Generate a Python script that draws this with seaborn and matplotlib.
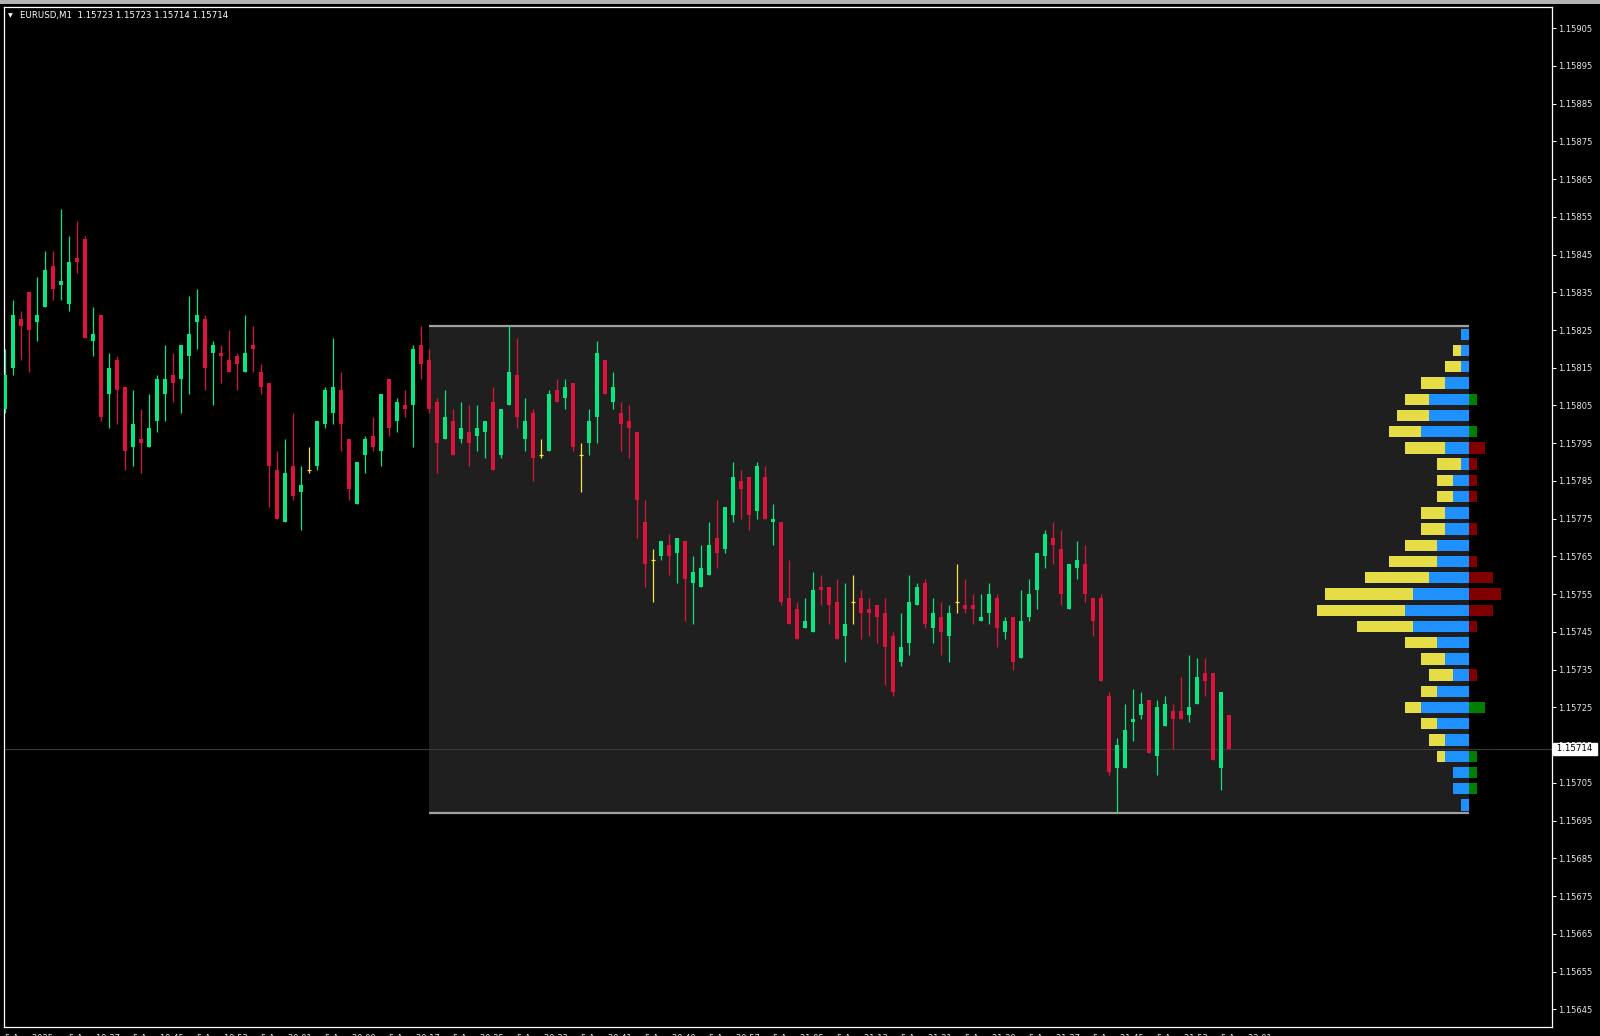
import numpy as np
import pandas as pd
import matplotlib
matplotlib.use("Agg")
import matplotlib.pyplot as plt
from matplotlib.patches import Rectangle
from matplotlib.transforms import blended_transform_factory
import seaborn as sns

# EURUSD M1 candles, 5 Aug 2025 19:29 - 22:02 (one entry per minute)
opens = [1.15804, 1.15815, 1.15828, 1.15835, 1.15827, 1.15831, 1.15842, 1.15837, 1.15832, 1.15844,
         1.15849, 1.15822, 1.15829, 1.15808, 1.15817, 1.15810, 1.15794, 1.15796, 1.15794, 1.15801,
         1.15808, 1.15813, 1.15812, 1.15818, 1.15827, 1.15828, 1.15819, 1.15819, 1.15817, 1.15818,
         1.15814, 1.15821, 1.15814, 1.15811, 1.15788, 1.15774, 1.15789, 1.15782, 1.15788, 1.15789,
         1.15800, 1.15803, 1.15809, 1.15796, 1.15779, 1.15792, 1.15797, 1.15793, 1.15812, 1.15801,
         1.15805, 1.15805, 1.15821, 1.15817, 1.15806, 1.15796, 1.15801, 1.15796, 1.15798, 1.15797,
         1.15798, 1.15806, 1.15792, 1.15805, 1.15813, 1.15796, 1.15803, 1.15792, 1.15793, 1.15809,
         1.15807, 1.15811, 1.15792, 1.15795, 1.15802, 1.15817, 1.15806, 1.15803, 1.15801, 1.15798,
         1.15774, 1.15764, 1.15765, 1.15768, 1.15766, 1.15769, 1.15758, 1.15757, 1.15760, 1.15770,
         1.15767, 1.15776, 1.15785, 1.15786, 1.15777, 1.15786, 1.15774, 1.15774, 1.15754, 1.15751,
         1.15746, 1.15745, 1.15757, 1.15757, 1.15753, 1.15744, 1.15753, 1.15754, 1.15751, 1.15752,
         1.15750, 1.15744, 1.15737, 1.15742, 1.15752, 1.15758, 1.15746, 1.15749, 1.15744, 1.15753,
         1.15752, 1.15752, 1.15748, 1.15750, 1.15754, 1.15745, 1.15749, 1.15738, 1.15749, 1.15756,
         1.15765, 1.15770, 1.15767, 1.15751, 1.15762, 1.15763, 1.15754, 1.15754, 1.15728, 1.15709,
         1.15709, 1.15721, 1.15723, 1.15727, 1.15712, 1.15720, 1.15724, 1.15724, 1.15723, 1.15726,
         1.15734, 1.15734, 1.15709, 1.15723]
highs = [1.15820, 1.15833, 1.15830, 1.15835, 1.15839, 1.15846, 1.15846, 1.15857, 1.15850, 1.15854,
         1.15850, 1.15831, 1.15829, 1.15819, 1.15818, 1.15810, 1.15809, 1.15804, 1.15808, 1.15813,
         1.15821, 1.15819, 1.15821, 1.15834, 1.15836, 1.15829, 1.15822, 1.15821, 1.15825, 1.15819,
         1.15829, 1.15826, 1.15816, 1.15811, 1.15793, 1.15796, 1.15803, 1.15789, 1.15794, 1.15801,
         1.15810, 1.15823, 1.15814, 1.15796, 1.15790, 1.15797, 1.15802, 1.15808, 1.15812, 1.15807,
         1.15809, 1.15821, 1.15826, 1.15820, 1.15807, 1.15809, 1.15804, 1.15806, 1.15805, 1.15805,
         1.15801, 1.15810, 1.15804, 1.15826, 1.15823, 1.15807, 1.15804, 1.15796, 1.15809, 1.15812,
         1.15812, 1.15811, 1.15795, 1.15804, 1.15822, 1.15817, 1.15814, 1.15806, 1.15805, 1.15798,
         1.15780, 1.15767, 1.15769, 1.15771, 1.15770, 1.15769, 1.15765, 1.15768, 1.15774, 1.15780,
         1.15778, 1.15790, 1.15788, 1.15786, 1.15790, 1.15789, 1.15779, 1.15774, 1.15764, 1.15753,
         1.15754, 1.15761, 1.15760, 1.15757, 1.15759, 1.15758, 1.15760, 1.15756, 1.15754, 1.15752,
         1.15754, 1.15745, 1.15750, 1.15760, 1.15758, 1.15759, 1.15754, 1.15753, 1.15752, 1.15763,
         1.15759, 1.15755, 1.15755, 1.15758, 1.15755, 1.15749, 1.15749, 1.15756, 1.15759, 1.15766,
         1.15772, 1.15774, 1.15772, 1.15763, 1.15769, 1.15768, 1.15754, 1.15755, 1.15729, 1.15717,
         1.15726, 1.15730, 1.15729, 1.15727, 1.15727, 1.15728, 1.15726, 1.15733, 1.15739, 1.15738,
         1.15738, 1.15734, 1.15729, 1.15723]
lows = [1.15803, 1.15813, 1.15817, 1.15814, 1.15822, 1.15831, 1.15833, 1.15833, 1.15830, 1.15840,
        1.15823, 1.15818, 1.15801, 1.15799, 1.15800, 1.15788, 1.15789, 1.15787, 1.15794, 1.15798,
        1.15801, 1.15806, 1.15803, 1.15808, 1.15820, 1.15809, 1.15805, 1.15811, 1.15814, 1.15809,
        1.15814, 1.15814, 1.15808, 1.15778, 1.15775, 1.15774, 1.15780, 1.15772, 1.15787, 1.15788,
        1.15799, 1.15800, 1.15793, 1.15780, 1.15779, 1.15787, 1.15793, 1.15789, 1.15797, 1.15798,
        1.15802, 1.15794, 1.15812, 1.15803, 1.15787, 1.15796, 1.15792, 1.15795, 1.15789, 1.15793,
        1.15791, 1.15788, 1.15791, 1.15805, 1.15799, 1.15793, 1.15785, 1.15791, 1.15793, 1.15806,
        1.15804, 1.15793, 1.15782, 1.15792, 1.15795, 1.15808, 1.15804, 1.15793, 1.15791, 1.15770,
        1.15757, 1.15753, 1.15764, 1.15760, 1.15758, 1.15748, 1.15747, 1.15757, 1.15760, 1.15762,
        1.15766, 1.15774, 1.15775, 1.15772, 1.15775, 1.15775, 1.15768, 1.15752, 1.15747, 1.15743,
        1.15746, 1.15745, 1.15752, 1.15747, 1.15743, 1.15737, 1.15747, 1.15743, 1.15744, 1.15742,
        1.15731, 1.15728, 1.15736, 1.15739, 1.15752, 1.15746, 1.15742, 1.15739, 1.15737, 1.15750,
        1.15750, 1.15747, 1.15748, 1.15747, 1.15741, 1.15743, 1.15735, 1.15738, 1.15748, 1.15751,
        1.15762, 1.15763, 1.15752, 1.15751, 1.15759, 1.15753, 1.15744, 1.15732, 1.15707, 1.15697,
        1.15709, 1.15716, 1.15722, 1.15713, 1.15707, 1.15720, 1.15714, 1.15722, 1.15721, 1.15726,
        1.15728, 1.15711, 1.15703, 1.15714]
closes = [1.15813, 1.15829, 1.15826, 1.15825, 1.15829, 1.15841, 1.15836, 1.15838, 1.15843, 1.15843,
          1.15823, 1.15824, 1.15802, 1.15815, 1.15809, 1.15793, 1.15800, 1.15795, 1.15799, 1.15812,
          1.15812, 1.15811, 1.15821, 1.15824, 1.15829, 1.15815, 1.15821, 1.15818, 1.15814, 1.15816,
          1.15819, 1.15820, 1.15810, 1.15789, 1.15775, 1.15787, 1.15781, 1.15784, 1.15788, 1.15801,
          1.15809, 1.15810, 1.15800, 1.15783, 1.15790, 1.15796, 1.15794, 1.15808, 1.15799, 1.15806,
          1.15804, 1.15820, 1.15816, 1.15804, 1.15795, 1.15802, 1.15792, 1.15799, 1.15795, 1.15799,
          1.15801, 1.15788, 1.15804, 1.15814, 1.15802, 1.15801, 1.15791, 1.15792, 1.15808, 1.15806,
          1.15810, 1.15794, 1.15792, 1.15801, 1.15819, 1.15808, 1.15810, 1.15800, 1.15799, 1.15780,
          1.15763, 1.15764, 1.15769, 1.15765, 1.15770, 1.15759, 1.15761, 1.15762, 1.15768, 1.15766,
          1.15778, 1.15786, 1.15783, 1.15776, 1.15789, 1.15775, 1.15775, 1.15753, 1.15747, 1.15743,
          1.15748, 1.15756, 1.15756, 1.15752, 1.15743, 1.15747, 1.15753, 1.15750, 1.15750, 1.15749,
          1.15741, 1.15729, 1.15741, 1.15753, 1.15757, 1.15747, 1.15750, 1.15745, 1.15750, 1.15753,
          1.15751, 1.15751, 1.15749, 1.15755, 1.15746, 1.15748, 1.15737, 1.15748, 1.15755, 1.15766,
          1.15771, 1.15768, 1.15755, 1.15763, 1.15764, 1.15755, 1.15748, 1.15732, 1.15708, 1.15715,
          1.15719, 1.15722, 1.15726, 1.15713, 1.15725, 1.15726, 1.15722, 1.15722, 1.15725, 1.15733,
          1.15732, 1.15711, 1.15729, 1.15714]

# volume profile of the boxed range (30 rows, top to bottom), in bar-width units
profile_buy = [1, 1, 1, 3, 5, 5, 6, 3, 1, 2, 2, 3, 3, 4, 4, 5, 7, 8, 7, 4, 3, 2, 4, 6, 4, 3, 3, 2, 2, 1]
profile_sell = [0, 1, 2, 3, 3, 4, 4, 5, 3, 2, 2, 3, 3, 4, 6, 8, 11, 11, 7, 4, 3, 3, 2, 2, 2, 2, 1, 0, 0, 0]
profile_delta = [0, 0, 0, 0, 1, 0, 1, -2, -1, -1, -1, 0, -1, 0, -1, -3, -4, -3, -1, 0, 0, -1, 0, 2, 0, 0, 1, 1, 1, 0]

box_start = 53
price_ticks = [1.15645, 1.15655, 1.15665, 1.15675, 1.15685, 1.15695, 1.15705, 1.15715, 1.15725, 1.15735,
               1.15745, 1.15755, 1.15765, 1.15775, 1.15785, 1.15795, 1.15805, 1.15815, 1.15825, 1.15835,
               1.15845, 1.15855, 1.15865, 1.15875, 1.15885, 1.15895, 1.15905]
time_labels = ["5 Aug 2025", "5 Aug 19:37", "5 Aug 19:45", "5 Aug 19:53", "5 Aug 20:01", "5 Aug 20:09",
               "5 Aug 20:17", "5 Aug 20:25", "5 Aug 20:33", "5 Aug 20:41", "5 Aug 20:49", "5 Aug 20:57",
               "5 Aug 21:05", "5 Aug 21:13", "5 Aug 21:21", "5 Aug 21:29", "5 Aug 21:37", "5 Aug 21:45",
               "5 Aug 21:53", "5 Aug 22:01"]
title = "EURUSD,M1  1.15723 1.15723 1.15714 1.15714"

BULL = "#08E67E"
BEAR = "#DC143C"
DOJI = "#F2E63C"

sns.set_theme(style="dark", rc={"axes.facecolor": "black", "figure.facecolor": "black"})
plt.rcParams["font.family"] = ["DejaVu Sans"]

df = pd.DataFrame({"open": opens, "high": highs, "low": lows, "close": closes})
df["bar"] = np.arange(len(df))
df["color"] = np.where(df["close"] > df["open"], BULL, np.where(df["close"] < df["open"], BEAR, DOJI))

W, H = 1600, 1036
fig = plt.figure(figsize=(W / 100, H / 100), dpi=100)
ax = fig.add_axes([4 / W, 9 / H, 1548 / W, 1020 / H])
ax.set_facecolor("black")
ax.set_xlim(-0.125, 193.375)
ax.set_ylim(1.156403, 1.159106)

# range box
rng = df.iloc[box_start:]
box_hi, box_lo = rng["high"].max(), rng["low"].min()
box_end = len(df) - 1 + 30
ax.add_patch(Rectangle((box_start, box_lo), box_end - box_start, box_hi - box_lo,
                       facecolor="#1F1F1F", edgecolor="none", zorder=0.5))
ax.hlines([box_hi, box_lo], box_start, box_end, colors="#A0A0A0", linewidth=1.6, zorder=0.6)

# last price line
last = df["close"].iloc[-1]
ax.axhline(last, color="#3A3A3A", linewidth=0.8, zorder=0.7)

# candles
ax.vlines(df["bar"], df["low"], df["high"], colors=df["color"], linewidth=0.9, zorder=2)
body = df[df["close"] != df["open"]]
ax.bar(body["bar"], (body["close"] - body["open"]).abs(), bottom=body[["open", "close"]].min(axis=1),
       width=0.6, color=body["color"], linewidth=0, zorder=3)
doji = df[df["close"] == df["open"]]
ax.hlines(doji["close"], doji["bar"] - 0.3, doji["bar"] + 0.3, colors=DOJI, linewidth=0.9, zorder=3)

# volume profile
edges = np.linspace(box_hi, box_lo, len(profile_buy) + 1)
centers = (edges[:-1] + edges[1:]) / 2
row_h = (box_hi - box_lo) / len(profile_buy) * 0.7
buy = np.array(profile_buy)
sell = np.array(profile_sell)
delta = np.array(profile_delta)
ax.barh(centers, buy, left=box_end - buy, height=row_h, color="#1E90FF", linewidth=0, zorder=3)
ax.barh(centers, sell, left=box_end - buy - sell, height=row_h, color="#E6DC46", linewidth=0, zorder=3)
ax.barh(centers, np.abs(delta), left=box_end, height=row_h,
        color=np.where(delta > 0, "#008000", "#800000"), linewidth=0, zorder=3)

# axes styling
for sp in ax.spines.values():
    sp.set_color("white")
    sp.set_linewidth(0.9)
ax.grid(False)
ax.yaxis.tick_right()
ax.set_yticks(price_ticks)
ax.set_yticklabels([f"{p:.5f}" for p in price_ticks])
ax.tick_params(axis="y", direction="out", length=3, width=0.7, colors="white",
               labelcolor="#E6E6E6", labelsize=6, pad=1.5)
ax.set_xticks(np.arange(0, len(df), 8))
ax.set_xticklabels(time_labels)
ax.tick_params(axis="x", direction="out", length=4, width=0.7, colors="white",
               labelcolor="#E6E6E6", labelsize=6, pad=1)
for lbl in ax.get_xticklabels():
    lbl.set_ha("left")

# current price label on the scale
tr = blended_transform_factory(ax.transAxes, ax.transData)
ax.text(1.0014, last, f" {last:.5f} ", transform=tr, fontsize=6.2, color="black", va="center", ha="left",
        clip_on=False, zorder=10,
        bbox=dict(boxstyle="square,pad=0.15", facecolor="white", edgecolor="white"))

# header
fig.text(8 / W, 1 - 15.5 / H, "\u25BC", fontsize=4.5, color="white", va="center", ha="left")
fig.text(20 / W, 1 - 15.5 / H, title, fontsize=6.2, color="white", va="center", ha="left")
fig.patches.append(Rectangle((0, 1 - 4 / H), 1, 4 / H, transform=fig.transFigure,
                             facecolor="#B4B4B4", edgecolor="none", zorder=-1))

fig.savefig("out.png", dpi=100, facecolor="black")
